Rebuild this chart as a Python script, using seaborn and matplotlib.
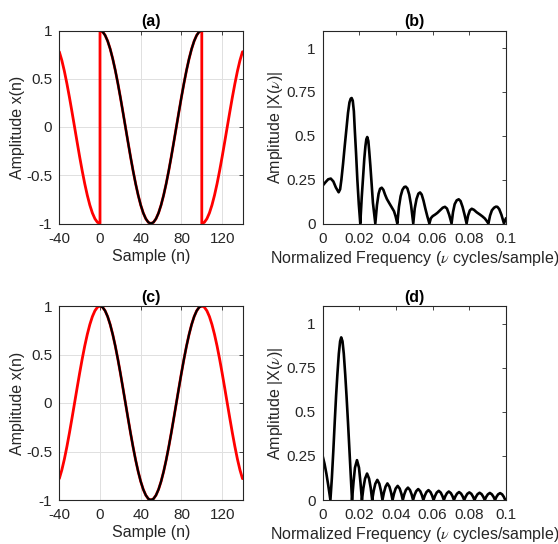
import matplotlib
matplotlib.use("Agg")
import matplotlib.pyplot as plt
import seaborn as sns
import pandas as pd

# ---------------- time-domain data ----------------
# sample index grids (step 2.5)
n_left = [-40, -37.5, -35, -32.5, -30, -27.5, -25, -22.5, -20, -17.5, -15,
          -12.5, -10, -7.5, -5, -2.5, 0]
n_mid = [0, 2.5, 5, 7.5, 10, 12.5, 15, 17.5, 20, 22.5, 25, 27.5, 30, 32.5, 35,
         37.5, 40, 42.5, 45, 47.5, 50, 52.5, 55, 57.5, 60, 62.5, 65, 67.5, 70,
         72.5, 75, 77.5, 80, 82.5, 85, 87.5, 90, 92.5, 95, 97.5, 100]
n_right = [100, 102.5, 105, 107.5, 110, 112.5, 115, 117.5, 120, 122.5, 125,
           127.5, 130, 132.5, 135, 137.5, 140]

# observed window (black) – one full period
x_mid = [1.0, 0.988, 0.951, 0.891, 0.809, 0.707, 0.588, 0.454, 0.309, 0.156,
         0.0, -0.156, -0.309, -0.454, -0.588, -0.707, -0.809, -0.891, -0.951,
         -0.988, -1.0, -0.988, -0.951, -0.891, -0.809, -0.707, -0.588, -0.454,
         -0.309, -0.156, 0.0, 0.156, 0.309, 0.454, 0.588, 0.707, 0.809, 0.891,
         0.951, 0.988, 1.0]

# (a) extension outside the window
xa_left = [0.78, 0.69, 0.578, 0.448, 0.306, 0.155, 0.0, -0.156, -0.309,
           -0.454, -0.588, -0.707, -0.809, -0.891, -0.951, -0.988, -1.0]
xa_right = [-1.0, -0.988, -0.951, -0.891, -0.809, -0.707, -0.588, -0.454,
            -0.309, -0.156, 0.0, 0.155, 0.306, 0.448, 0.578, 0.69, 0.78]

# (c) extension outside the window
xc_left = [-0.78, -0.69, -0.578, -0.448, -0.306, -0.155, 0.0, 0.156, 0.309,
           0.454, 0.588, 0.707, 0.809, 0.891, 0.951, 0.988, 1.0]
xc_right = [1.0, 0.988, 0.951, 0.891, 0.809, 0.707, 0.588, 0.454, 0.309,
            0.156, 0.0, -0.155, -0.306, -0.448, -0.578, -0.69, -0.78]

# ---------------- spectra ----------------
nu_b = [0.0000, 0.0015, 0.0030, 0.0044, 0.0058, 0.0072, 0.0087, 0.0095,
        0.0102, 0.0111, 0.0120, 0.0130, 0.0138, 0.0146, 0.0153, 0.0158,
        0.0164, 0.0170, 0.0175, 0.0182, 0.0189, 0.0197, 0.0205,
        0.0213, 0.0220, 0.0227, 0.0233, 0.0238, 0.0243, 0.0249, 0.0254,
        0.0260, 0.0267, 0.0274, 0.0287,
        0.0296, 0.0305, 0.0313, 0.0322, 0.0331, 0.0340, 0.0350, 0.0362,
        0.0375, 0.0389, 0.0398, 0.0407,
        0.0416, 0.0425, 0.0435, 0.0445, 0.0453, 0.0462, 0.0472, 0.0482,
        0.0494,
        0.0502, 0.0512, 0.0522, 0.0531, 0.0540, 0.0550, 0.0560, 0.0571,
        0.0582,
        0.0590, 0.0600, 0.0612, 0.0625, 0.0640, 0.0655, 0.0667, 0.0678,
        0.0690, 0.0703,
        0.0711, 0.0720, 0.0731, 0.0742, 0.0752, 0.0763, 0.0774, 0.0785,
        0.0793, 0.0803, 0.0813, 0.0825, 0.0840, 0.0858, 0.0872, 0.0885,
        0.0895, 0.0904,
        0.0913, 0.0923, 0.0935, 0.0945, 0.0953, 0.0963, 0.0975, 0.0989,
        0.1000]
mag_b = [0.216, 0.235, 0.252, 0.256, 0.240, 0.205, 0.178, 0.195,
         0.250, 0.340, 0.440, 0.545, 0.630, 0.690, 0.712, 0.715,
         0.700, 0.640, 0.535, 0.400, 0.250, 0.110, 0.000,
         0.150, 0.260, 0.370, 0.440, 0.480, 0.493, 0.470, 0.410,
         0.330, 0.225, 0.118, 0.000,
         0.105, 0.170, 0.198, 0.204, 0.192, 0.165, 0.140, 0.118,
         0.095, 0.070, 0.040, 0.000,
         0.095, 0.155, 0.192, 0.208, 0.210, 0.200, 0.165, 0.105,
         0.000,
         0.085, 0.140, 0.170, 0.177, 0.165, 0.130, 0.085, 0.040,
         0.000,
         0.030, 0.042, 0.050, 0.060, 0.075, 0.090, 0.095, 0.085,
         0.050, 0.000,
         0.065, 0.110, 0.132, 0.138, 0.128, 0.095, 0.050, 0.000,
         0.045, 0.075, 0.084, 0.078, 0.064, 0.051, 0.040, 0.028,
         0.014, 0.000,
         0.045, 0.075, 0.090, 0.096, 0.095, 0.082, 0.050, 0.000,
         0.030]

nu_d = [0.0000, 0.0010, 0.0020, 0.0030, 0.0042,
        0.0050, 0.0058, 0.0066, 0.0073, 0.0080, 0.0088, 0.0095, 0.0101,
        0.0108, 0.0115, 0.0123, 0.0130, 0.0138, 0.0146, 0.0153,
        0.0160, 0.0168, 0.0176, 0.0187, 0.0198, 0.0206,
        0.0214, 0.0222, 0.0231, 0.0242, 0.0253, 0.0262,
        0.0270, 0.0278, 0.0287, 0.0298, 0.0309, 0.0318,
        0.0326, 0.0334, 0.0343, 0.0353, 0.0364, 0.0373,
        0.0381, 0.0389, 0.0398, 0.0409, 0.0420, 0.0429,
        0.0437, 0.0445, 0.0454, 0.0465, 0.0476, 0.0485,
        0.0493, 0.0501, 0.0510, 0.0521, 0.0532, 0.0541,
        0.0549, 0.0557, 0.0566, 0.0577, 0.0588, 0.0597,
        0.0605, 0.0613, 0.0622, 0.0633, 0.0644, 0.0653,
        0.0661, 0.0669, 0.0678, 0.0688, 0.0699, 0.0708,
        0.0716, 0.0724, 0.0733, 0.0744, 0.0755, 0.0764,
        0.0772, 0.0780, 0.0789, 0.0800, 0.0811, 0.0820,
        0.0828, 0.0836, 0.0845, 0.0856, 0.0867, 0.0876,
        0.0884, 0.0892, 0.0901, 0.0912, 0.0923, 0.0932,
        0.0940, 0.0948, 0.0957, 0.0968, 0.0979, 0.0988,
        0.0996, 0.1000]
mag_d = [0.248, 0.205, 0.150, 0.085, 0.000,
         0.125, 0.280, 0.450, 0.590, 0.710, 0.830, 0.900, 0.922,
         0.900, 0.830, 0.710, 0.590, 0.440, 0.280, 0.140,
         0.000, 0.100, 0.183, 0.226, 0.183, 0.100,
         0.000, 0.068, 0.121, 0.150, 0.121, 0.068,
         0.000, 0.051, 0.092, 0.114, 0.092, 0.051,
         0.000, 0.042, 0.076, 0.094, 0.076, 0.042,
         0.000, 0.036, 0.065, 0.080, 0.065, 0.036,
         0.000, 0.032, 0.057, 0.070, 0.057, 0.032,
         0.000, 0.028, 0.050, 0.062, 0.050, 0.028,
         0.000, 0.025, 0.045, 0.056, 0.045, 0.025,
         0.000, 0.023, 0.042, 0.052, 0.042, 0.023,
         0.000, 0.022, 0.039, 0.048, 0.039, 0.022,
         0.000, 0.020, 0.036, 0.045, 0.036, 0.020,
         0.000, 0.019, 0.035, 0.043, 0.035, 0.019,
         0.000, 0.018, 0.033, 0.041, 0.033, 0.018,
         0.000, 0.018, 0.032, 0.040, 0.032, 0.018,
         0.000, 0.018, 0.032, 0.039, 0.032, 0.018,
         0.000, 0.004]

# tick labels
time_ticks = [-40, 0, 40, 80, 120]
time_tick_labels = ["-40", "0", "40", "80", "120"]
amp_ticks = [-1, -0.5, 0, 0.5, 1]
amp_tick_labels = ["-1", "-0.5", "0", "0.5", "1"]
freq_ticks = [0, 0.02, 0.04, 0.06, 0.08, 0.1]
freq_tick_labels = ["0", "0.02", "0.04", "0.06", "0.08", "0.1"]
mag_ticks = [0, 0.25, 0.5, 0.75, 1]
mag_tick_labels = ["0", "0.25", "0.5", "0.75", "1"]
titles = ["(a)", "(b)", "(c)", "(d)"]

# ---------------- styling ----------------
sns.set_theme(style="white")
plt.rcParams["font.family"] = ["Liberation Sans", "DejaVu Sans"]
plt.rcParams["mathtext.fontset"] = "stix"
INK = "#262626"
RED = "#ff0000"
TICK_FS = 11
LABEL_FS = 11.5

fig = plt.figure(figsize=(5.58, 5.44), dpi=100)
W, H = 558.0, 544.0


def make_axes(x0, x1, y0, y1):
    return fig.add_axes([x0 / W, 1 - y1 / H, (x1 - x0) / W, (y1 - y0) / H])


ax_a = make_axes(59.3, 242.5, 30.5, 223.5)
ax_b = make_axes(322.7, 506.0, 30.5, 223.5)
ax_c = make_axes(59.3, 242.5, 306.0, 500.0)
ax_d = make_axes(322.7, 506.0, 306.0, 500.0)


def style_axes(ax, title, grid):
    for s in ax.spines.values():
        s.set_color(INK)
        s.set_linewidth(0.8)
    ax.tick_params(direction="in", length=3, width=0.6, colors=INK,
                   labelsize=TICK_FS, top=True, right=True)
    ax.tick_params(axis="x", pad=6)
    ax.tick_params(axis="y", pad=5)
    ax.set_title(title, fontsize=11.5, fontweight="bold", color="black", pad=3)
    if grid:
        ax.grid(True, color="#e0e0e0", linewidth=0.7)
        ax.set_axisbelow(True)
    else:
        ax.grid(False)


def time_panel(ax, red_n, red_x, title):
    sns.lineplot(x=red_n, y=red_x, estimator=None, sort=False, color=RED,
                 linewidth=2.0, ax=ax)
    sns.lineplot(x=n_mid, y=x_mid, estimator=None, sort=False, color="black",
                 linewidth=1.6, ax=ax)
    ax.set_xlim(-40, 140)
    ax.set_ylim(-1, 1)
    ax.set_xticks(time_ticks, time_tick_labels)
    ax.set_yticks(amp_ticks, amp_tick_labels)
    ax.set_xlabel("Sample (n)", fontsize=LABEL_FS, color=INK, labelpad=2)
    ax.set_ylabel("Amplitude x(n)", fontsize=LABEL_FS, color=INK, labelpad=1)
    style_axes(ax, title, grid=True)


def freq_panel(ax, nu, mag, title):
    df = pd.DataFrame({"nu": nu, "mag": mag})
    sns.lineplot(data=df, x="nu", y="mag", estimator=None, sort=False,
                 color="black", linewidth=1.9, ax=ax)
    ax.set_xlim(0, 0.1)
    ax.set_ylim(0, 1.1)
    ax.set_xticks(freq_ticks, freq_tick_labels)
    ax.set_yticks(mag_ticks, mag_tick_labels)
    ax.set_xlabel(r"Normalized Frequency ($\nu$ cycles/sample)",
                  fontsize=LABEL_FS, color=INK, labelpad=2)
    ax.set_ylabel(r"Amplitude |X($\nu$)|", fontsize=LABEL_FS, color=INK,
                  labelpad=1)
    style_axes(ax, title, grid=False)


time_panel(ax_a, n_left + n_mid + n_right, xa_left + x_mid + xa_right, titles[0])
freq_panel(ax_b, nu_b, mag_b, titles[1])
time_panel(ax_c, n_left + n_mid + n_right, xc_left + x_mid + xc_right, titles[2])
freq_panel(ax_d, nu_d, mag_d, titles[3])

fig.savefig("out.png", dpi=100, facecolor="white")
